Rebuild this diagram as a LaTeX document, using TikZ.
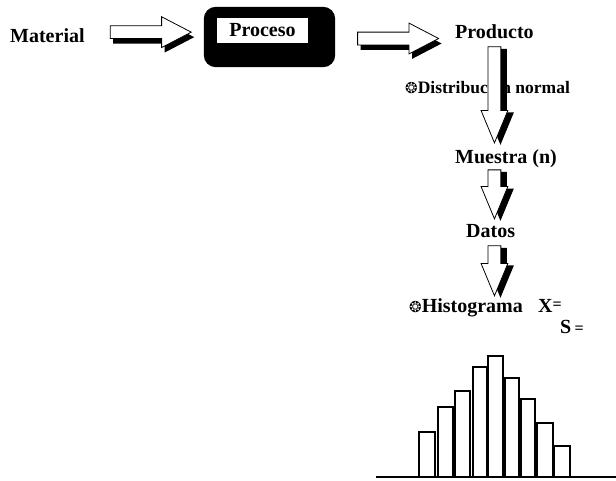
\documentclass[tikz,border=0pt]{standalone}
\usepackage{fontspec}
\setmainfont{Liberation Serif}
\newfontfamily\simbolos{DejaVu Sans}
\usetikzlibrary{shapes.arrows,shadows,calc,backgrounds}
\tikzset{
  texto/.style={inner sep=0pt, anchor=base west},
  flechader/.style={single arrow, draw, line width=0.8pt, fill=white, inner sep=0pt,
    text height=6pt, text depth=6pt, single arrow head extend=9, single arrow tip angle=55, anchor=tail,
    drop shadow={shadow xshift=3pt, shadow yshift=-5pt, fill=black, opacity=1}},
  flechaaba/.style={single arrow, draw, line width=0.8pt, fill=white, inner sep=0pt, rotate=-90,
    text height=6pt, text depth=6pt, single arrow head extend=7, single arrow tip angle=45, anchor=tail,
    drop shadow={shadow xshift=6pt, shadow yshift=-2pt, fill=black, opacity=1}},
  barra/.style={line width=2pt}
}
\newcommand{\vineta}{{\simbolos\fontsize{15}{15}\selectfont ❂}}
\begin{document}
\begin{tikzpicture}[x=1pt, y=-1pt, font=\fontsize{20}{24}\selectfont\bfseries]
	\useasboundingbox (0,0) rectangle (616,480);
	% Proceso
	\node[texto] (material) at (10,42) {Material};
	\node[fill=white, inner sep=0pt, minimum width=91, minimum height=25] (proceso) at (262.5,30.5) {Proceso};
	\begin{scope}[on background layer]
		\fill[rounded corners=12pt] ($(proceso.north west)+(-13,-11)$) rectangle ($(proceso.south east)+(27,24)$);
	\end{scope}
	\node[texto] (producto) at (455,38) {Producto};
	\node[flechader, minimum height=81] (f1) at ($(material.east)+(25,-3)$) {};
	\node[flechader, minimum height=81] (f2) at ($(proceso.east)+(49,8)$) {};
	% Muestreo
	\node[texto, font=\fontsize{17.5}{20}\selectfont\bfseries] (distrib) at (405,93) {\vineta Distribución normal};
	\node[texto] (muestra) at (455,163) {Muestra (n)};
	\node[texto] (datos) at (466,237) {Datos};
	\node[texto] (histo) at (409,312) {\vineta Histograma};
	\node[texto] (media) at (538,312) {X\raisebox{3pt}{\fontsize{16}{16}\selectfont =}};
	\node[texto] (desv) at (560,333) {S\,\fontsize{16}{16}\selectfont =};
	\node[flechaaba, minimum height=96] (f3) at ($(producto.south)+(0,8)$) {};
	\node[flechaaba, minimum height=49] (f4) at ($(producto.south |- muestra.south)+(0,2)$) {};
	\node[flechaaba, minimum height=50] (f5) at ($(producto.south |- datos.south)+(0,8)$) {};
	% Histograma
	\draw[barra] (419,477) rectangle (435,432);
	\draw[barra] (438,477) rectangle (453,407);
	\draw[barra] (455,477) rectangle (470,391);
	\draw[barra] (473,477) rectangle (487,367);
	\draw[barra] (488,477) rectangle (503,356);
	\draw[barra] (505,477) rectangle (519,378);
	\draw[barra] (521,477) rectangle (535,399);
	\draw[barra] (537,477) rectangle (553,423);
	\draw[barra] (554,477) rectangle (570,446);
	\draw[barra] (376,477) -- (616,477);
\end{tikzpicture}
\end{document}
